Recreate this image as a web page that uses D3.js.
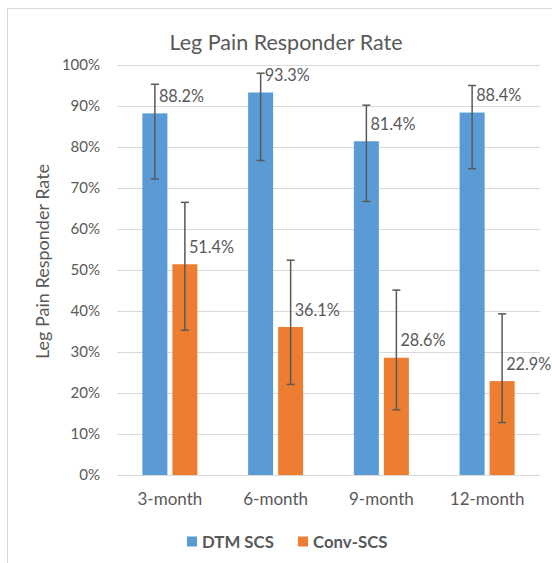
<!DOCTYPE html>
<html>
<head>
<meta charset="utf-8">
<script src="https://cdn.jsdelivr.net/npm/d3@7/dist/d3.min.js"></script>
<style>
  html, body { margin: 0; padding: 0; background: #fff; }
  svg { display: block; font-family: Lato, "Open Sans", sans-serif; }
</style>
</head>
<body>
<svg id="chart" width="552" height="563"></svg>
<script>
const categories = ["3-month", "6-month", "9-month", "12-month"];
const seriesNames = ["DTM SCS", "Conv-SCS"];
const dtmValues = [88.2, 93.3, 81.4, 88.4];
const convValues = [51.4, 36.1, 28.6, 22.9];
const dtmHigh = [95.3, 98.0, 90.2, 95.0];
const dtmLow = [72.2, 76.7, 66.7, 74.7];
const convHigh = [66.5, 52.4, 45.1, 39.3];
const convLow = [35.3, 22.1, 15.9, 12.8];
const yTicks = [0, 10, 20, 30, 40, 50, 60, 70, 80, 90, 100];
const colors = ["#5B9BD5", "#ED7D31"];
const titleText = "Leg Pain Responder Rate";
const yAxisTitle = "Leg Pain Responder Rate";

const series = [
  { name: seriesNames[0], values: dtmValues, high: dtmHigh, low: dtmLow, color: colors[0] },
  { name: seriesNames[1], values: convValues, high: convHigh, low: convLow, color: colors[1] }
];

const svg = d3.select("#chart");
const textColor = "#595959";
const gridColor = "#D9D9D9";

// chart frame (left and top edges visible)
svg.append("path")
  .attr("d", "M7.5,563 L7.5,8.5 L552,8.5")
  .attr("fill", "none")
  .attr("stroke", gridColor)
  .attr("stroke-width", 1);

const x = d3.scaleBand().domain(categories).range([117, 540]);
const xs = d3.scaleBand().domain(seriesNames).range([-27.5, 27.5]).paddingInner(1 / 6);
const y = d3.scaleLinear().domain([0, 100]).range([475, 65]);

// gridlines
svg.append("g").selectAll("line").data(yTicks).join("line")
  .attr("x1", 117).attr("x2", 540)
  .attr("y1", d => Math.round(y(d)) + 0.5).attr("y2", d => Math.round(y(d)) + 0.5)
  .attr("stroke", gridColor).attr("stroke-width", 1.2);

// y axis labels
const yAxis = svg.append("g").attr("transform", "translate(117,0)")
  .call(d3.axisLeft(y).tickValues(yTicks).tickSize(0).tickPadding(17).tickFormat(d => d + "%"));
yAxis.select(".domain").remove();
yAxis.selectAll("text").attr("fill", textColor).attr("font-size", 15).attr("font-family", "Lato, sans-serif");

// x axis labels
const xAxis = svg.append("g").attr("transform", "translate(0,475)")
  .call(d3.axisBottom(x).tickSize(0).tickPadding(18));
xAxis.select(".domain").remove();
xAxis.selectAll("text").attr("fill", textColor).attr("font-size", 17).attr("font-family", "Lato, sans-serif");

// bars
series.forEach(s => {
  const g = svg.append("g");
  g.selectAll("rect").data(categories).join("rect")
    .attr("x", c => x(c) + x.bandwidth() / 2 + xs(s.name))
    .attr("width", xs.bandwidth())
    .attr("y", (c, i) => y(s.values[i]))
    .attr("height", (c, i) => y(0) - y(s.values[i]))
    .attr("fill", s.color);
});

// error bars
series.forEach(s => {
  const g = svg.append("g").attr("stroke", textColor).attr("stroke-width", 1.5);
  categories.forEach((c, i) => {
    const cx = x(c) + x.bandwidth() / 2 + xs(s.name) + xs.bandwidth() / 2;
    g.append("line").attr("x1", cx).attr("x2", cx).attr("y1", y(s.high[i])).attr("y2", y(s.low[i]));
    g.append("line").attr("x1", cx - 4).attr("x2", cx + 4).attr("y1", y(s.high[i])).attr("y2", y(s.high[i]));
    g.append("line").attr("x1", cx - 4).attr("x2", cx + 4).attr("y1", y(s.low[i])).attr("y2", y(s.low[i]));
  });
});

// data labels
series.forEach(s => {
  svg.append("g").selectAll("text").data(categories).join("text")
    .attr("x", c => x(c) + x.bandwidth() / 2 + xs(s.name) + xs.bandwidth() / 2 + 4)
    .attr("y", (c, i) => y(s.values[i]) - 17)
    .attr("dy", "0.35em")
    .attr("text-anchor", "start")
    .attr("fill", textColor)
    .attr("font-size", 16.3)
    .text((c, i) => s.values[i].toFixed(1) + "%");
});

// title
svg.append("text")
  .attr("x", 286).attr("y", 42).attr("dy", "0.35em")
  .attr("text-anchor", "middle")
  .attr("fill", textColor)
  .attr("font-size", 21.5)
  .text(titleText);

// y axis title
svg.append("text")
  .attr("transform", "translate(43,261.5) rotate(-90)")
  .attr("dy", "0.35em")
  .attr("text-anchor", "middle")
  .attr("fill", textColor)
  .attr("font-size", 18)
  .text(yAxisTitle);

// legend
const legendItems = [
  { name: seriesNames[0], color: colors[0], x: 187 },
  { name: seriesNames[1], color: colors[1], x: 298 }
];
const lg = svg.append("g");
legendItems.forEach(it => {
  lg.append("rect").attr("x", it.x).attr("y", 536.5).attr("width", 10).attr("height", 10).attr("fill", it.color);
  lg.append("text").attr("x", it.x + 15).attr("y", 541.7).attr("dy", "0.35em")
    .attr("fill", textColor).attr("font-size", 16.8).attr("font-weight", "bold")
    .text(it.name);
});
</script>
</body>
</html>
